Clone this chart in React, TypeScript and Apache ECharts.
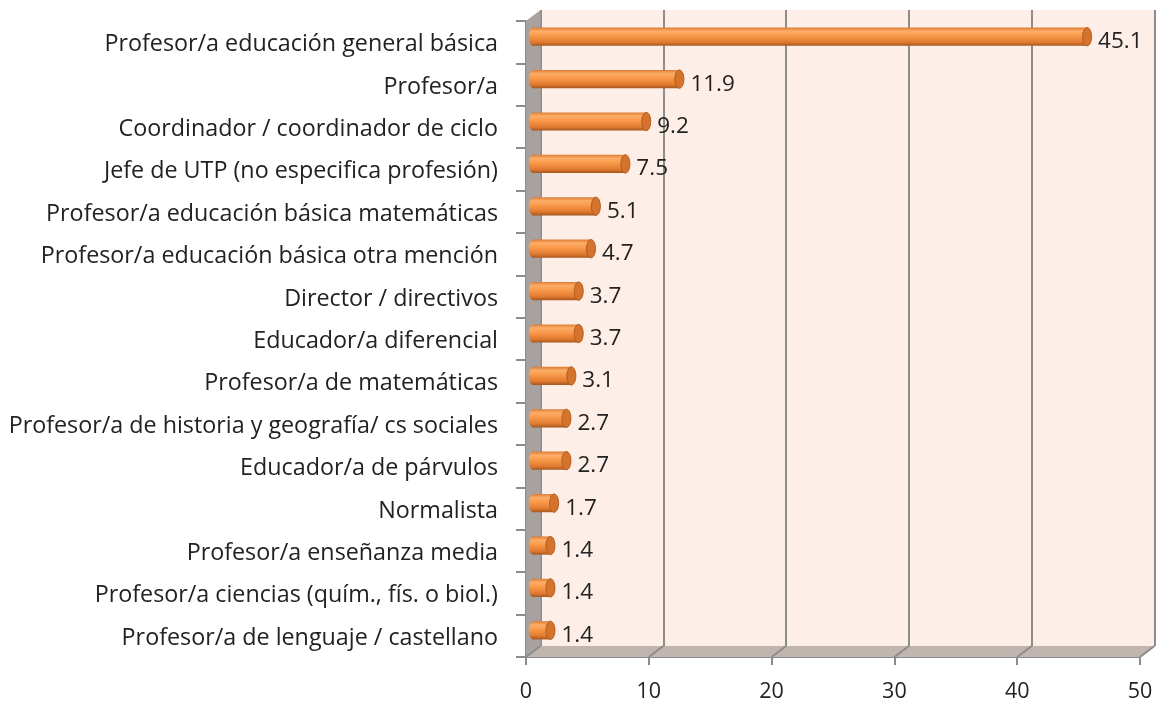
import React, { useEffect, useRef } from "react";
import * as echarts from "echarts";

const categories = [
  "Profesor/a educación general básica",
  "Profesor/a",
  "Coordinador / coordinador de ciclo",
  "Jefe de UTP (no especifica profesión)",
  "Profesor/a educación básica matemáticas",
  "Profesor/a educación básica otra mención",
  "Director / directivos",
  "Educador/a diferencial",
  "Profesor/a de matemáticas",
  "Profesor/a de historia y geografía/ cs sociales",
  "Educador/a de párvulos",
  "Normalista",
  "Profesor/a enseñanza media",
  "Profesor/a ciencias (quím., fís. o biol.)",
  "Profesor/a de lenguaje / castellano",
];
const values = [45.1, 11.9, 9.2, 7.5, 5.1, 4.7, 3.7, 3.7, 3.1, 2.7, 2.7, 1.7, 1.4, 1.4, 1.4];
const xTicks = [0, 10, 20, 30, 40, 50];

const FONT = "Open Sans";
const TEXT = "#222222";
const GRIDC = "#8c8c8c";

// layout (front plane, back plane, middle plane for the bars)
const FRONT = { left: 526, top: 21, width: 614, height: 636 };
const DX = 14.5;
const DY = -11;

export default function App() {
  const ref = useRef<HTMLDivElement>(null);
  useEffect(() => {
    document.body.style.margin = "0";
    const chart = echarts.init(ref.current!, null, { renderer: "svg" });
    const back = { left: FRONT.left + DX, top: FRONT.top + DY, width: FRONT.width, height: FRONT.height };
    const mid = { left: FRONT.left + DX / 2, top: FRONT.top + DY / 2, width: FRONT.width, height: FRONT.height };
    const fb = FRONT.top + FRONT.height;
    const fr = FRONT.left + FRONT.width;

    const barGrad = new echarts.graphic.LinearGradient(0, 0, 0, 1, [
      { offset: 0, color: "#dc7c34" },
      { offset: 0.2, color: "#fcad68" },
      { offset: 0.45, color: "#f9994a" },
      { offset: 0.8, color: "#e07a30" },
      { offset: 1, color: "#a55720" },
    ]);

    const option: any = {
      animation: false,
      grid: [
        { ...back, show: true, backgroundColor: "#fdeee7", borderWidth: 0 },
        { ...FRONT, show: false },
        { ...mid, show: false },
      ],
      xAxis: [
        {
          gridIndex: 0, type: "value", min: 0, max: 50, interval: 10,
          axisLine: { show: false }, axisTick: { show: false }, axisLabel: { show: false },
          splitLine: { show: true, lineStyle: { color: GRIDC, width: 2 } },
        },
        {
          gridIndex: 1, type: "value", min: 0, max: 50, interval: 10,
          axisLine: { show: true, lineStyle: { color: GRIDC, width: 2 } },
          axisTick: { show: true, length: 8, lineStyle: { color: GRIDC, width: 2 } },
          axisLabel: { show: true, margin: 21, fontFamily: FONT, fontSize: 21.5, color: TEXT },
          splitLine: { show: false },
        },
        {
          gridIndex: 2, type: "value", min: 0, max: 50, interval: 10, show: false,
        },
      ],
      yAxis: [
        { gridIndex: 0, type: "category", data: categories, inverse: true, show: false },
        {
          gridIndex: 1, type: "category", data: categories, inverse: true,
          axisLine: { show: true, lineStyle: { color: GRIDC, width: 2 } },
          axisTick: { show: true, length: 10, lineStyle: { color: GRIDC, width: 2 } },
          axisLabel: { margin: 28, fontFamily: FONT, fontSize: 23.3, color: TEXT },
        },
        { gridIndex: 2, type: "category", data: categories, inverse: true, show: false },
      ],
      graphic: [
        {
          type: "polygon", z: 1,
          shape: { points: [[FRONT.left, FRONT.top], [FRONT.left + DX, FRONT.top + DY], [FRONT.left + DX, fb + DY], [FRONT.left, fb]] },
          style: { fill: "#a7a19f" },
        },
        {
          type: "polygon", z: 1,
          shape: { points: [[FRONT.left, fb], [fr, fb], [fr + DX, fb + DY], [FRONT.left + DX, fb + DY]] },
          style: { fill: "#c1b5af" },
        },
      ],
      series: [
        {
          type: "custom",
          xAxisIndex: 1,
          yAxisIndex: 1,
          z: 3,
          data: xTicks.map((t) => [t]),
          encode: { x: 0 },
          renderItem: (params: any, api: any) => {
            const x = api.coord([api.value(0), 0])[0];
            return {
              type: "line",
              shape: { x1: x, y1: fb, x2: x + DX, y2: fb + DY },
              style: { stroke: GRIDC, lineWidth: 2 },
            };
          },
        },
        {
          type: "custom",
          xAxisIndex: 2,
          yAxisIndex: 2,
          z: 5,
          data: values.map((v, i) => [v, i]),
          encode: { x: 0, y: 1 },
          renderItem: (params: any, api: any) => {
            const v = api.value(0);
            const i = api.value(1);
            const s = api.coord([0, i]);
            const e = api.coord([v, i]);
            const h = api.size([0, 1])[1] * 0.43;
            const c = s[1];
            const rx = 4.5;
            return {
              type: "group",
              children: [
                {
                  type: "ellipse",
                  shape: { cx: s[0], cy: c, rx: rx, ry: h / 2 },
                  style: { fill: barGrad },
                },
                {
                  type: "rect",
                  shape: { x: s[0], y: c - h / 2, width: e[0] - s[0], height: h },
                  style: { fill: barGrad },
                },
                {
                  type: "ellipse",
                  shape: { cx: e[0], cy: c, rx: rx, ry: h / 2 },
                  style: { fill: "#d5732c", stroke: "#b05d1f", lineWidth: 1 },
                },
                {
                  type: "text",
                  x: e[0] + 11,
                  y: c + 3,
                  style: {
                    text: v.toFixed(1),
                    fontFamily: FONT,
                    fontSize: 22.5,
                    fill: TEXT,
                    verticalAlign: "middle",
                    align: "left",
                  },
                },
              ],
            };
          },
        },
      ],
    };
    chart.setOption(option);
    return () => chart.dispose();
  }, []);
  return <div ref={ref} style={{ position: "fixed", left: 0, top: 0, width: 1157, height: 702 }} />;
}
